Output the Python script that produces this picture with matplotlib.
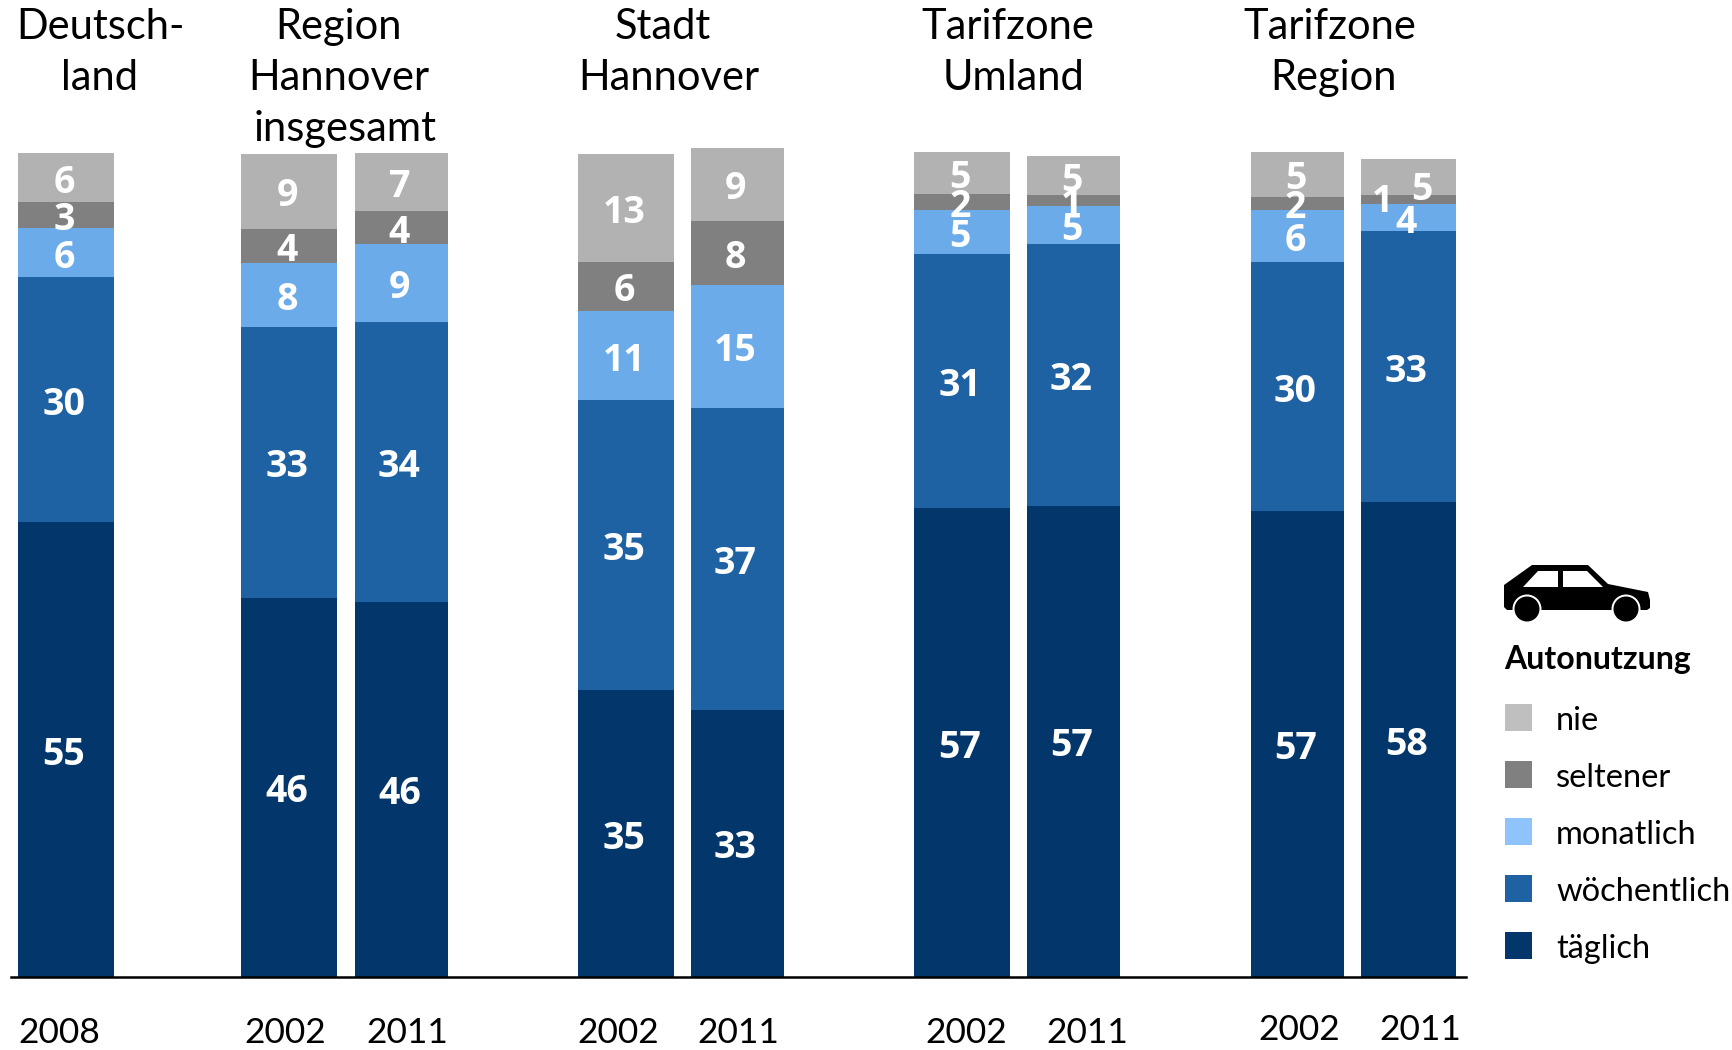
import numpy as np
from matplotlib import pyplot as plt
from matplotlib.patches import Polygon, Circle, Rectangle

plt.rcParams['font.family'] = ['Lato', 'DejaVu Sans']

# segment heights (percent), bars left to right
taeglich =    [55.2, 46.0, 45.5, 34.8, 32.4, 56.9, 57.2, 56.5, 57.6]
woechentlich = [29.7, 32.9, 34.0, 35.2, 36.7, 30.8, 31.7, 30.3, 32.9]
monatlich =   [6.0, 7.8, 9.4, 10.8, 14.9, 5.4, 4.7, 6.3, 3.3]
seltener =    [3.1, 4.1, 4.1, 6.0, 7.8, 1.9, 1.3, 1.6, 1.1]
nie =         [6.0, 9.1, 7.0, 13.1, 8.8, 5.1, 4.7, 5.4, 4.4]

# printed labels
lab_taeglich = ['55', '46', '46', '35', '33', '57', '57', '57', '58']
lab_woechentlich = ['30', '33', '34', '35', '37', '31', '32', '30', '33']
lab_monatlich = ['6', '8', '9', '11', '15', '5', '5', '6', '4']
lab_seltener = ['3', '4', '4', '6', '8', '2', '1', '2', '1']
lab_nie = ['6', '9', '7', '13', '9', '5', '5', '5', '5']

years = ['2008', '2002', '2011', '2002', '2011', '2002', '2011', '2002', '2011']
legend_names = ['nie', 'seltener', 'monatlich', 'wöchentlich', 'täglich']

bar_left = [18, 241, 355, 578, 691, 914, 1027, 1251, 1361]
bar_right = [114, 337, 448, 674, 784, 1010, 1120, 1344, 1456]
year_x = [59, 285, 407, 618, 738, 966, 1087, 1299, 1420]
year_y = [1033, 1033, 1033, 1033, 1033, 1033, 1033, 1030, 1030]

bar_colors = ['#03376c', '#1e62a4', '#6cabe9', '#808080', '#b2b2b2']
legend_colors = ['#bfbfbf', '#808080', '#8fc3fb', '#1e62a4', '#03376c']

fig = plt.figure(figsize=(17.33, 10.5), dpi=100)
ax = fig.add_axes([0, 73/1050, 1, 977/1050])
ax.set_xlim(0, 1733)
ax.set_ylim(0, 977/8.24)
ax.patch.set_alpha(0)

left = np.array(bar_left)
right = np.array(bar_right)
centers = (left + right) / 2
widths = right - left

series = [taeglich, woechentlich, monatlich, seltener, nie]
labels = [lab_taeglich, lab_woechentlich, lab_monatlich, lab_seltener, lab_nie]
# the two crowded labels in the last bar are moved sideways in the original
shift = {(3, 8): (-24, 0.3), (4, 8): (15, -1.0)}

bottom = np.zeros(9)
for s, vals in enumerate(series):
    vals = np.array(vals)
    ax.bar(centers, vals, widths, bottom=bottom, color=bar_colors[s], linewidth=0)
    for i in range(9):
        dx, dy = shift.get((s, i), (0, 0))
        ax.text(centers[i] - 2 + dx, bottom[i] + vals[i]/2 + dy - 0.6, labels[s][i], color='white',
                family=['Open Sans', 'DejaVu Sans'], fontsize=27, fontweight='bold',
                ha='center', va='center', clip_on=False, zorder=5)
    bottom = bottom + vals

for sp in ['top', 'left', 'right']:
    ax.spines[sp].set_visible(False)
ax.spines['bottom'].set_bounds(11, 1466)
ax.spines['bottom'].set_linewidth(1.8)
ax.set_xticks([])
ax.set_yticks([])

# overlay in pixels for headings, legend and the car
ov = fig.add_axes([0, 0, 1, 1])
ov.set_xlim(0, 1733)
ov.set_ylim(1050, 0)
ov.axis('off')
ov.patch.set_alpha(0)

for x, y, t in zip(year_x, year_y, years):
    ov.text(x, y, t, fontsize=25.5, ha='center', va='center', color='black')

titles = [('Deutsch-', 101, 27), ('land', 100, 78),
          ('Region', 339, 27), ('Hannover', 339, 78), ('insgesamt', 345, 129),
          ('Stadt', 663, 27), ('Hannover', 669, 78),
          ('Tarifzone', 1008, 27), ('Umland', 1014, 78),
          ('Tarifzone', 1330, 27), ('Region', 1334, 78)]
for t, x, y in titles:
    ov.text(x, y, t, fontsize=30, ha='center', va='center', color='black')

ov.text(1504, 660, 'Autonutzung', fontsize=23, fontweight='bold', ha='left', va='center')
leg_y = [717, 774, 831, 888, 945]
for name, col, y in zip(legend_names, legend_colors, leg_y):
    ov.add_patch(Rectangle((1505, y - 13.5), 27, 27, color=col, linewidth=0))
    ov.text(1556, y + 4, name, fontsize=23.5, ha='left', va='center')

# car icon
body = [(1504, 585), (1532, 565), (1588, 565), (1608, 584), (1648, 592), (1650, 600), (1650, 608),
        (1647, 610), (1507, 610), (1504, 607)]
ov.add_patch(Polygon(body, closed=True, color='black', linewidth=0))
ov.add_patch(Polygon([(1523, 587), (1538, 571), (1558, 571), (1558, 587)], closed=True, color='white', linewidth=0))
ov.add_patch(Polygon([(1563, 571), (1587, 571), (1603, 587), (1563, 587)], closed=True, color='white', linewidth=0))
for cx in [1527, 1626]:
    ov.add_patch(Circle((cx, 609), 14.5, color='white', linewidth=0))
    ov.add_patch(Circle((cx, 609), 12.5, color='black', linewidth=0))

plt.savefig('out.png', dpi=100)
